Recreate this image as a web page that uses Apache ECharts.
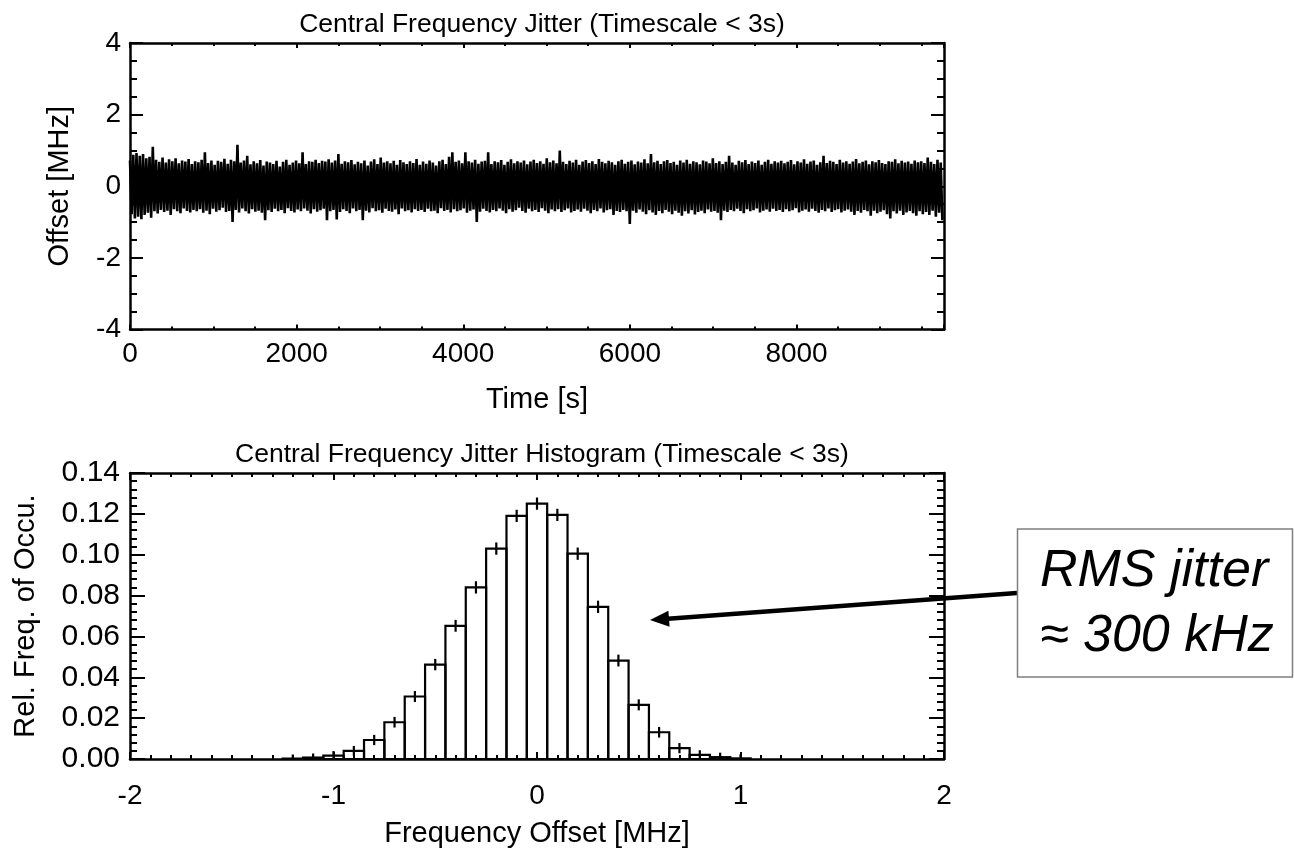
<!DOCTYPE html>
<html><head><meta charset="utf-8">
<script src="https://cdn.jsdelivr.net/npm/echarts@6/dist/echarts.min.js"></script>
<style>html,body{margin:0;padding:0;background:#fff}#c{width:1294px;height:849px}</style>
</head><body><div id="c"></div>
<script>
// ---------------- data ----------------
// Top panel: jitter time series, read as alternating upper / lower excursions (hundredths of MHz)
const timeMax = 9770;          // s, right edge of the time axis
const upperPeaks = [
 72,88,93,85,90,78,82,110,74,68, 80,66,75,70,78,64,72,69,76,62,
 70,67,74,95,65,72,60,71,68,77, 63,74,70,116,66,72,85,61,70,64,
 73,58,69,66,62,71,55,68,74,60, 66,72,64,95,62,70,68,74,65,71,
 69,75,66,72,90,63,70,67,73,61, 68,64,72,58,69,75,62,80,66,70,
 64,71,60,73,67,62,70,65,76,60, 69,63,72,66,58,70,74,62,82,95,
 68,72,64,95,70,66,74,63,69,71, 95,62,70,67,73,60,68,75,64,70,
 66,72,61,69,74,65,70,63,78,67, 72,64,100,68,62,71,66,74,60,69,
 73,65,70,62,76,68,64,71,67,60, 70,74,63,68,72,61,69,66,75,64,
 90,67,71,62,70,73,65,68,60,72, 66,74,63,70,67,61,72,69,64,78,
 65,70,62,68,85,66,60,71,67,73, 62,69,65,72,60,68,74,63,70,66,
 71,64,68,73,61,70,66,75,63,69, 72,60,67,85,65,71,68,62,74,66,
 70,63,69,76,64,68,72,61,70,67, 73,65,62,70,68,75,64,71,66,69,
 63,72,67,70,65,80,68,62,74,66
];
const lowerPeaks = [
 -78,-90,-85,-92,-80,-74,-88,-70,-76,-66, -72,-68,-80,-64,-70,-75,-62,-69,-73,-66,
 -70,-64,-74,-68,-78,-63,-71,-67,-60,-72, -69,-100,-66,-73,-62,-70,-76,-64,-71,-68,
 -74,-95,-67,-72,-63,-70,-66,-75,-61,-69, -73,-65,-70,-62,-68,-76,-64,-71,-67,-63,
 -95,-70,-66,-93,-72,-64,-69,-75,-62,-70, -66,-95,-68,-73,-61,-70,-67,-74,-63,-69,
 -71,-65,-78,-62,-70,-67,-73,-64,-69,-66, -72,-63,-70,-68,-75,-61,-69,-66,-73,-64,
 -70,-67,-62,-74,-68,-65,-100,-71,-63,-69, -73,-66,-70,-62,-68,-75,-64,-71,-67,-60,
 -69,-74,-63,-70,-66,-72,-61,-68,-75,-65, -70,-64,-72,-67,-62,-73,-69,-65,-71,-63,
 -68,-75,-66,-70,-62,-73,-67,-64,-80,-69, -72,-66,-70,-105,-68,-74,-65,-71,-78,-67,
 -73,-80,-69,-75,-66,-71,-78,-68,-74,-82, -70,-76,-67,-79,-72,-68,-75,-65,-71,-69,
 -74,-95,-68,-72,-66,-70,-63,-69,-75,-64, -70,-67,-62,-73,-68,-65,-71,-63,-69,-66,
 -72,-64,-70,-67,-61,-73,-68,-65,-71,-63, -69,-74,-66,-70,-62,-72,-67,-64,-73,-68,
 -65,-71,-80,-69,-74,-66,-70,-82,-68,-75, -71,-67,-78,-90,-70,-76,-68,-80,-73,-69,
 -75,-82,-70,-78,-72,-80,-68,-85,-74,-95
];
// Bottom panel: histogram
const binWidth = 0.1;
const binCenters = [-1.2,-1.1,-1.0,-0.9,-0.8,-0.7,-0.6,-0.5,-0.4,-0.3,-0.2,-0.1,0.0,0.1,0.2,0.3,0.4,0.5,0.6,0.7,0.8,0.9,1.0];
const relFreq    = [0.0002,0.0007,0.0017,0.0040,0.0093,0.0180,0.0306,0.0462,0.0652,0.0840,0.1030,0.1190,0.1250,0.1195,0.1005,0.0745,0.0482,0.0265,0.0131,0.0053,0.0020,0.0009,0.0003];
const relErr     = [0.0020,0.0020,0.0022,0.0024,0.0025,0.0026,0.0027,0.0028,0.0029,0.0030,0.0030,0.0030,0.0030,0.0030,0.0030,0.0030,0.0029,0.0027,0.0026,0.0025,0.0023,0.0022,0.0020];

const title1 = 'Central Frequency Jitter (Timescale < 3s)';
const title2 = 'Central Frequency Jitter Histogram (Timescale < 3s)';
const annot1 = 'RMS jitter';
const annot2 = '\u2248 300 kHz';

// ---------------- build ----------------
const FONT = '"Liberation Sans", Arial, sans-serif';
const dt = timeMax / upperPeaks.length;
const jitter = [];
for (let i = 0; i < upperPeaks.length; i++) {
  jitter.push([i * dt, upperPeaks[i] / 100]);
  jitter.push([(i + 0.5) * dt, lowerPeaks[i] / 100]);
}

function axis(o) {
  return Object.assign({
    type: 'value',
    splitLine: { show: false },
    axisLine: { show: true, onZero: false, lineStyle: { color: '#000', width: 2.5 } },
    axisTick: { show: true, inside: true, length: o.tickLen, lineStyle: { color: '#000', width: 2 } },
    minorTick: { show: true, splitNumber: o.minor, length: o.minorLen, lineStyle: { color: '#000', width: 2 } },
    axisLabel: { show: !o.mirror, color: '#000', fontFamily: FONT, fontSize: o.fs || 28, margin: o.margin, formatter: o.fmt, showMaxLabel: o.showMax, padding: o.pad },
    nameTextStyle: { color: '#000', fontFamily: FONT, fontSize: 29 },
    nameLocation: 'middle'
  }, o.extra);
}

const chart = echarts.init(document.getElementById('c'), null, { renderer: 'canvas' });
chart.setOption({
  animation: false,
  backgroundColor: '#fff',
  title: [
    { text: title1, left: 537, top: 6, textAlign: 'center', textStyle: { fontFamily: FONT, fontSize: 26.5, fontWeight: 'normal', color: '#000' } },
    { text: title2, left: 537, top: 436, textAlign: 'center', textStyle: { fontFamily: FONT, fontSize: 26.5, fontWeight: 'normal', color: '#000' } }
  ],
  grid: [
    { left: 130, right: 350, top: 43, bottom: 519.5 },
    { left: 130, right: 350, top: 473, bottom: 90 }
  ],
  xAxis: [
    axis({ tickLen: 5, minor: 4, minorLen: 3, margin: 11, showMax: false,
      fmt: v => (v % 2000 === 0 ? String(v) : ''),
      extra: { gridIndex: 0, min: 0, max: timeMax, interval: 2000, position: 'bottom', name: 'Time [s]', nameGap: 56 } }),
    axis({ tickLen: 5, minor: 4, minorLen: 3, mirror: true,
      extra: { gridIndex: 0, min: 0, max: timeMax, interval: 2000, position: 'top' } }),
    axis({ tickLen: 7, minor: 10, minorLen: 4, margin: 23,
      extra: { gridIndex: 1, min: -2, max: 2, interval: 1, position: 'bottom', name: 'Frequency Offset [MHz]', nameGap: 60 } }),
    axis({ tickLen: 7, minor: 10, minorLen: 4, mirror: true,
      extra: { gridIndex: 1, min: -2, max: 2, interval: 1, position: 'top' } })
  ],
  yAxis: [
    axis({ tickLen: 13, minor: 4, minorLen: 7, margin: 9,
      extra: { gridIndex: 0, min: -4, max: 4, interval: 2, position: 'left', name: 'Offset [MHz]', nameGap: 56 } }),
    axis({ tickLen: 13, minor: 4, minorLen: 7, mirror: true,
      extra: { gridIndex: 0, min: -4, max: 4, interval: 2, position: 'right' } }),
    axis({ tickLen: 15, minor: 5, minorLen: 7, margin: 10, fs: 30, fmt: v => v.toFixed(2), pad: [10, 0, 0, 0],
      extra: { gridIndex: 1, min: 0, max: 0.14, interval: 0.02, position: 'left', name: 'Rel. Freq. of Occu.', nameGap: 90 } }),
    axis({ tickLen: 15, minor: 5, minorLen: 7, mirror: true,
      extra: { gridIndex: 1, min: 0, max: 0.14, interval: 0.02, position: 'right' } })
  ],
  series: [
    {
      type: 'line', xAxisIndex: 0, yAxisIndex: 0, data: jitter,
      symbol: 'none', sampling: null, lineStyle: { color: '#000', width: 2.6 }, z: 3
    },
    {
      type: 'custom', xAxisIndex: 2, yAxisIndex: 2, clip: true, z: 3,
      data: binCenters.map((c, i) => [c, relFreq[i], relErr[i]]),
      renderItem(params, api) {
        const c = api.value(0), v = api.value(1), e = api.value(2);
        const p0 = api.coord([c - binWidth / 2, v]);
        const p1 = api.coord([c + binWidth / 2, 0]);
        const t = api.coord([c, v + e]);
        const b = api.coord([c, Math.max(0, v - e)]);
        return { type: 'group', children: [
          { type: 'rect', shape: { x: p0[0], y: p0[1], width: p1[0] - p0[0], height: p1[1] - p0[1] },
            style: { fill: 'none', stroke: '#000', lineWidth: 2.2 } },
          { type: 'line', shape: { x1: t[0], y1: t[1], x2: b[0], y2: b[1] },
            style: { stroke: '#000', lineWidth: 2.2 } }
        ] };
      }
    }
  ],
  graphic: [
    { type: 'line', z: 10, shape: { x1: 1017, y1: 593, x2: 668, y2: 618.7 }, style: { stroke: '#000', lineWidth: 4.5 } },
    { type: 'polygon', z: 10, shape: { points: [[650, 620], [668.4, 610.7], [669.6, 626.7]] }, style: { fill: '#000' } },
    { type: 'rect', z: 11, shape: { x: 1017.5, y: 529, width: 275, height: 148 }, style: { fill: '#fff', stroke: '#7f7f7f', lineWidth: 1.5 } },
    { type: 'text', z: 12, x: 1040, y: 572, style: { text: annot1, fontFamily: FONT, fontSize: 52, fontStyle: 'italic', fill: '#000', verticalAlign: 'middle', align: 'left' } },
    { type: 'text', z: 12, x: 1040, y: 637, style: { text: annot2, fontFamily: FONT, fontSize: 52, fontStyle: 'italic', fill: '#000', verticalAlign: 'middle', align: 'left' } }
  ]
});
</script>
</body></html>
